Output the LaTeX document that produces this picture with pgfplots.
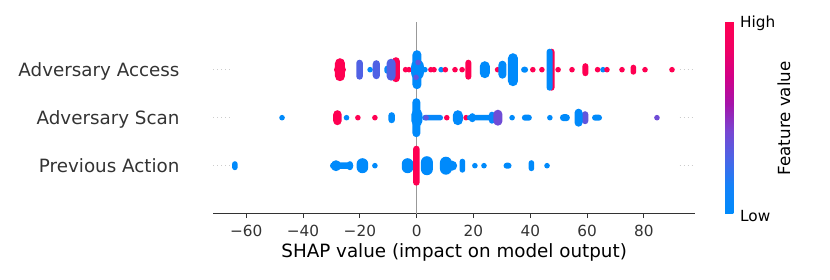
\documentclass[border=0pt]{standalone}
\usepackage{fontspec}
\setmainfont{DejaVu Sans}
\usepackage{pgfplots}
\pgfplotsset{compat=1.18}
\definecolor{axgray}{HTML}{333333}
\definecolor{zerogray}{HTML}{999999}
\definecolor{dotgray}{HTML}{CCCCCC}
\newdimen\pillr \newdimen\pilld
\pgfdeclareplotmark{pill}{%
  \ifdim\hw pt<\hh pt
    \pillr=\hw pt \pilld=\hh pt \advance\pilld by -\pillr
    \pgfpathmoveto{\pgfpoint{-\pillr}{-\pilld}}%
    \pgfpathlineto{\pgfpoint{-\pillr}{\pilld}}%
    \pgfpatharc{180}{0}{\pillr}%
    \pgfpathlineto{\pgfpoint{\pillr}{-\pilld}}%
    \pgfpatharc{0}{-180}{\pillr}%
  \else
    \pillr=\hh pt \pilld=\hw pt \advance\pilld by -\pillr
    \pgfpathmoveto{\pgfpoint{-\pilld}{-\pillr}}%
    \pgfpathlineto{\pgfpoint{\pilld}{-\pillr}}%
    \pgfpatharc{-90}{90}{\pillr}%
    \pgfpathlineto{\pgfpoint{-\pilld}{\pillr}}%
    \pgfpatharc{90}{270}{\pillr}%
  \fi
  \pgfpathclose
  \pgfusepathqfill
}
\begin{document}
\begin{tikzpicture}
\useasboundingbox (0,0) rectangle (830pt,280pt);
\begin{axis}[
  at={(213.3pt,66.3pt)}, anchor=south west,
  scale only axis, width=481.7pt, height=192pt,
  xmin=-71.6, xmax=98.0, ymin=-1, ymax=3,
  axis x line*=bottom, axis y line*=left,
  y axis line style={draw=none},
  x axis line style={color=axgray, line width=0.9pt},
  xtick={-60,-40,-20,0,20,40,60,80},
  xticklabels={−60,−40,−20,0,20,40,60,80},
  ytick={0,1,2},
  yticklabels={Previous Action,Adversary Scan,Adversary Access},
  tick align=outside, major tick length=4.5pt,
  xtick style={color=axgray, line width=0.9pt},
  ytick style={draw=none},
  xticklabel style={font=\fontsize{15.3}{18}\selectfont, color=axgray, anchor=base, yshift=-18.5pt},
  yticklabel style={font=\fontsize{18.3}{22}\selectfont, color=axgray, anchor=base east, xshift=-25.8pt, yshift=-6.8pt},
  xlabel={SHAP value (impact on model output)},
  xlabel style={font=\fontsize{18.3}{22}\selectfont, at={(axis description cs:0.5,-0.2307)}, anchor=base},
  colormap={shap}{rgb255=(0,138,251) rgb255=(20,130,248) rgb255=(75,100,230) rgb255=(120,70,210) rgb255=(165,20,170) rgb255=(210,0,135) rgb255=(240,0,100) rgb255=(255,0,82)},
  point meta min=0, point meta max=1,
  colorbar,
  colorbar style={
    at={(1.0623,0.002)}, anchor=south west,
    scale only axis, width=8.3pt, height=191.6pt,
    ytick=\empty, xtick=\empty,
    axis line style={draw=none},
  },
  clip=false,
]
\addplot[color=zerogray, line width=1.6pt] coordinates {(0,-1) (0,3)};
\addplot[color=dotgray, line width=0.7pt, dash pattern=on 0.7pt off 3.3pt] coordinates {(-71.6,2) (-64.6,2)};
\addplot[color=dotgray, line width=0.7pt, dash pattern=on 0.7pt off 3.3pt] coordinates {(92.6,2) (98,2)};
\addplot[color=dotgray, line width=0.7pt, dash pattern=on 0.7pt off 3.3pt] coordinates {(-71.6,1) (-64.6,1)};
\addplot[color=dotgray, line width=0.7pt, dash pattern=on 0.7pt off 3.3pt] coordinates {(92.6,1) (98,1)};
\addplot[color=dotgray, line width=0.7pt, dash pattern=on 0.7pt off 3.3pt] coordinates {(-71.6,0) (-64.6,0)};
\addplot[color=dotgray, line width=0.7pt, dash pattern=on 0.7pt off 3.3pt] coordinates {(92.6,0) (98,0)};
\addplot[scatter, only marks, mark=pill, point meta=explicit,
  scatter/use mapped color={draw=none, fill=mapped color},
  visualization depends on={value \thisrow{w}\as\hw},
  visualization depends on={value \thisrow{h}\as\hh}]
  table[x=x, y=y, meta=c] {
x y c w h
-27.0 2 1 5 11.5
-27.0 2 1 6 5
-20.1 2 0.3 3.3 10
-16.4 2 0 2.8 2.8
-14.2 2 0.3 3.6 9.5
-7.3 2 1 4 12.5
-10.4 2 0.05 2.8 4
-9.0 2 0.3 4.5 11
-3.9 2 1 2.8 2.8
-2.7 2 1 2.8 2.8
0.1 2 0 4.5 19.5
0.3 2 0 6.3 10
-0.2 1.84 0.35 2.8 2.8
0.5 2.15 0.35 2.8 2.8
2.9 2 0 2.8 2.8
5.0 2 1 2.8 2.8
6.1 2 1 2.8 2.8
8.6 2 0 2.8 2.8
10.1 2 1 2.8 2.8
13.5 2 1 2.8 2.8
16.0 2 1 2.8 2.8
18.2 2 1 3 10
24.0 2 0 5 8.5
28.5 2 1 2.8 2.8
30.2 2 0 4 9
33.9 2 0 5 16.5
38.0 2 0 3.5 3
40.9 2 1 2.8 2.8
44.1 2 1 2.8 2.8
47.5 2 1 3 21
46.8 2 0 3 21
49.8 2 1 2.8 2.8
54.7 2 1 2.8 2.8
59.4 2 1 3 6.5
63.7 2 1 2.8 2.8
65.6 2 0 2.8 2.8
67.0 2 1 2.8 2.8
72.3 2 1 2.8 2.8
76.3 2 1 2.8 5
80.4 2 1 2.8 2.8
89.9 2 1 2.8 2.8
-47.4 1 0 2.8 2.8
-27.9 1 1 4.2 7.5
-24.7 1 0 2.8 2.8
-20.7 1 1 2.8 2.8
-14.7 1 1 2.8 2.8
-8.8 1 0 3.3 5.5
5.6 1 0.05 10.5 2.8
3.3 1 0.35 2.8 2.8
-0.1 1 0 4 19.5
0.1 1 0 5.5 9
10.6 1 1 2.8 2.8
14.5 1 0 5 7.5
17.4 1 1 2.8 2.8
22.1 1 0 12.5 2.8
19.6 1 0 3 4.5
26.5 1 0.05 3 6
28.6 1 0.4 4.5 8
33.6 1 0 2.8 2.8
38.8 1 0 5 3
46.9 1 0 2.8 2.8
52.2 1 0 5 3.5
59.3 1 0.35 3.3 6.5
57.0 1 0 4 9
63.5 1 0 5 3
84.6 1 0.4 2.8 2.8
-64.0 0 0 2.8 4.5
-26.4 0 0 11.7 3.3
-28.4 0 0 5 5.5
-23.5 0 0 3 4.5
-19.1 0 0 5.8 7.5
-14.7 0 0 2.8 2.8
-3.2 0 0 5.8 7.5
3.6 0 0 6 9.5
-0.1 0 1 3.3 20
10.3 0 0 6 9
12.5 0 0 5 5
16.1 0 0 2.8 7
20.5 0 0 2.8 2.8
23.7 0 0 2.8 2.8
32.0 0 0 4 3
40.4 0 0 2.8 5.5
45.9 0 0 2.8 2.8
};
\end{axis}
\node[anchor=base west, inner sep=0pt, font=\fontsize{15.3}{18}\selectfont] at (740pt,252pt) {High};
\node[anchor=base west, inner sep=0pt, font=\fontsize{15.3}{18}\selectfont] at (740pt,58.3pt) {Low};
\node[rotate=90, anchor=base, inner sep=0pt, font=\fontsize{16.7}{20}\selectfont] at (790pt,161.7pt) {Feature value};
\end{tikzpicture}
\end{document}
